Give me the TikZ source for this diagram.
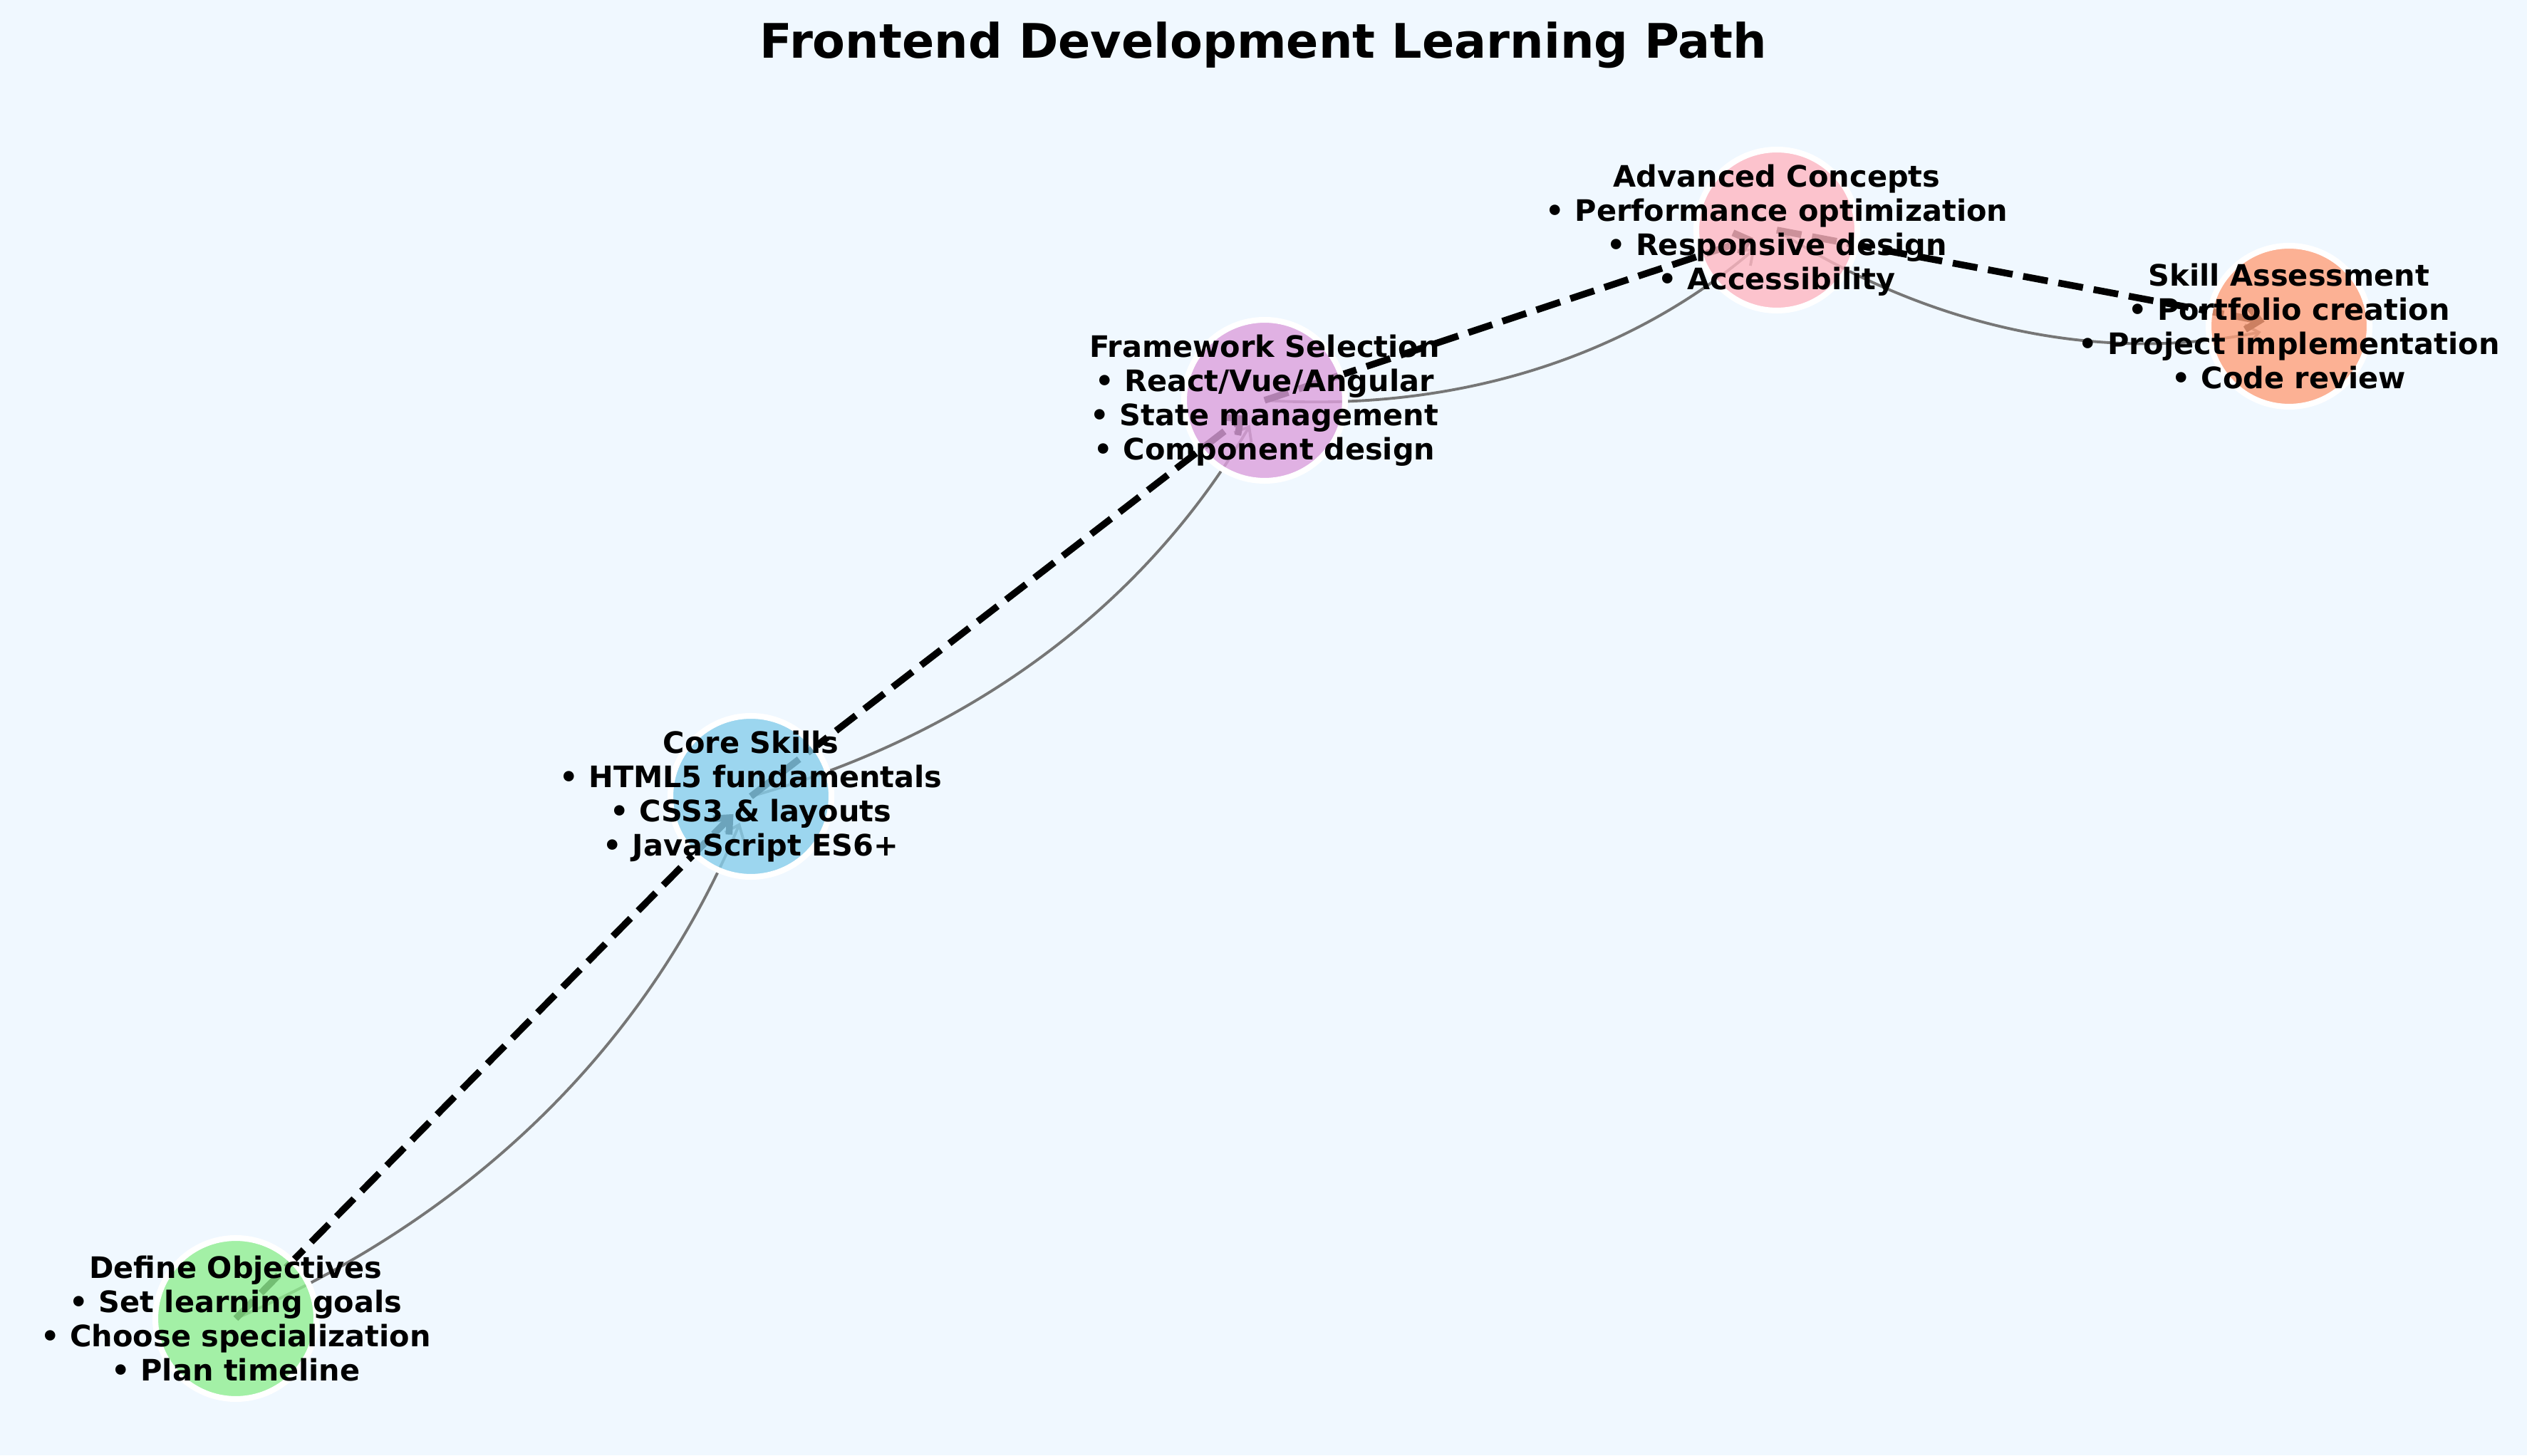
\documentclass[tikz,border=0pt]{standalone}
\usepackage{fontspec}
\setmainfont{DejaVu Sans}
\usetikzlibrary{arrows.meta}
\definecolor{bgc}{HTML}{F0F8FF}
\definecolor{cgreen}{HTML}{90EE90}
\definecolor{cblue}{HTML}{87CEEB}
\definecolor{cplum}{HTML}{DDA0DD}
\definecolor{cpink}{HTML}{FFB6C1}
\definecolor{csalmon}{HTML}{FFA07A}
\definecolor{cgrey}{RGB}{118,118,118}
\pgfdeclarelayer{bg}
\pgfsetlayers{bg,main}
\begin{document}
\begin{tikzpicture}[x=1cm,y=1cm,
  stepnode/.style={circle, minimum size=2.26cm, inner sep=0pt, draw=white, line width=2.3pt, fill opacity=0.8},
  lbl/.style={align=center, font=\bfseries\fontsize{11.8}{13.7}\selectfont, inner sep=0pt},
  flow/.style={black, line width=2.7pt, dash pattern=on 10pt off 4.3pt, -{Straight Barb[length=5pt,width=9pt]}, shorten >=0.35cm},
  link/.style={cgrey, line width=1.1pt, -{Straight Barb[length=5pt,width=8pt]}, bend right=22, looseness=0.92, shorten >=0.4cm},
  ttl/.style={font=\bfseries\fontsize{19}{22}\selectfont, anchor=base, inner sep=0pt}]
\useasboundingbox (0,0) rectangle (35.47,20.43);

\node[ttl] (title) at (17.735,19.61) {Frontend Development Learning Path};

\node[stepnode, fill=cgreen] (def) at (3.31,1.92) {};
\node[stepnode, fill=cblue] (core) at (10.54,9.25) {};
\node[stepnode, fill=cplum] (fw) at (17.75,14.81) {};
\node[stepnode, fill=cpink] (adv) at (24.94,17.20) {};
\node[stepnode, fill=csalmon] (sk) at (32.13,15.85) {};

\node[lbl] (defl) at (def) {Define Objectives\\• Set learning goals\\• Choose specialization\\• Plan timeline};
\node[lbl] (corel) at (core) {Core Skills\\• HTML5 fundamentals\\• CSS3 \& layouts\\• JavaScript ES6+};
\node[lbl] (fwl) at (fw) {Framework Selection\\• React/Vue/Angular\\• State management\\• Component design};
\node[lbl] (advl) at (adv) {Advanced Concepts\\• Performance optimization\\• Responsive design\\• Accessibility};
\node[lbl] (skl) at (sk) {Skill Assessment\\• Portfolio creation\\• Project implementation\\• Code review};

\begin{pgfonlayer}{bg}
\fill[bgc] (0,0) rectangle (35.47,20.43);
\draw[link] (def.center) to (core.center);
\draw[link] (core.center) to (fw.center);
\draw[link] (fw.center) to (adv.center);
\draw[link] (adv.center) to (sk.center);
\draw[flow] (def.center) -- (core.center);
\draw[flow] (core.center) -- (fw.center);
\draw[flow] (fw.center) -- (adv.center);
\draw[flow] (adv.center) -- (sk.center);
\end{pgfonlayer}
\end{tikzpicture}
\end{document}
